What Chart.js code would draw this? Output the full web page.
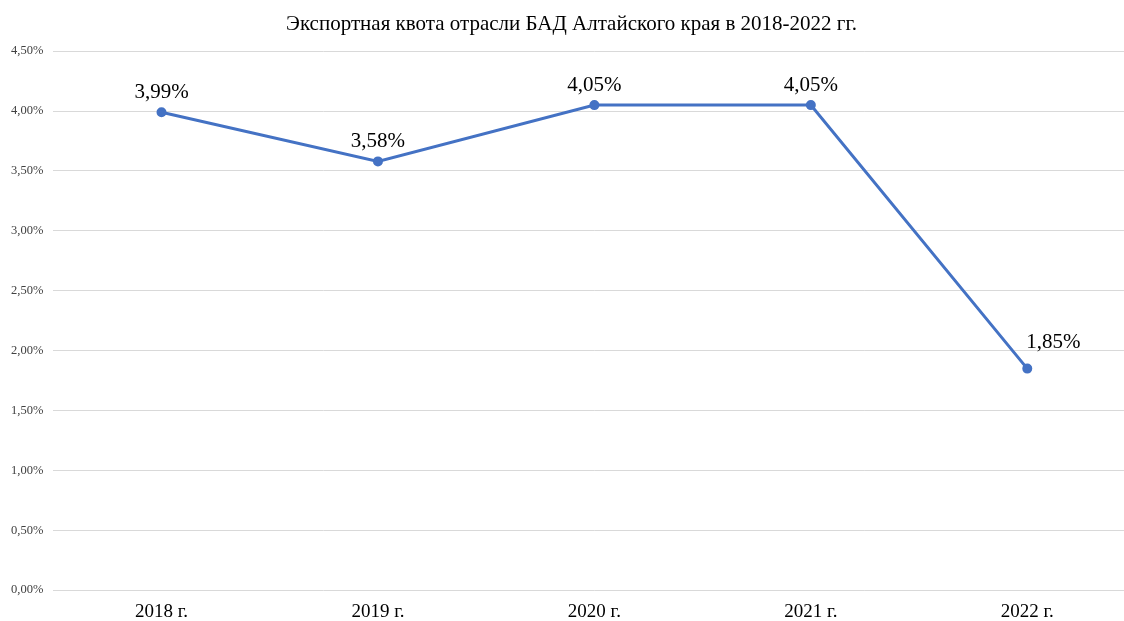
<!DOCTYPE html>
<html>
<head>
<meta charset="utf-8">
<script src="https://cdn.jsdelivr.net/npm/chart.js@4"></script>
<style>
  html, body { margin: 0; padding: 0; background: #fff; overflow: hidden; }
  #wrap { width: 1142px; height: 633px; }
</style>
</head>
<body>
<div id="wrap"><canvas id="exportChart"></canvas></div>
<script>
const years = ["2018 г.", "2019 г.", "2020 г.", "2021 г.", "2022 г."];
const exportQuota = [3.99, 3.58, 4.05, 4.05, 1.85];
const quotaLabels = ["3,99%", "3,58%", "4,05%", "4,05%", "1,85%"];

const fmtPct = (v) => v.toFixed(2).replace(".", ",") + "%";

// simple value labels above each point
const pointLabels = {
  id: "pointLabels",
  afterDatasetsDraw(chart) {
    const ctx = chart.ctx;
    const meta = chart.getDatasetMeta(0);
    ctx.save();
    ctx.font = "21px 'Liberation Serif', serif";
    ctx.fillStyle = "#000";
    ctx.textAlign = "center";
    ctx.textBaseline = "middle";
    meta.data.forEach((pt, i) => {
      let dx = 0;
      let dy = -20;
      if (i === meta.data.length - 1) {
        dx = 26;
        dy = -26;
      }
      ctx.fillText(quotaLabels[i], pt.x + dx, pt.y + dy);
    });
    ctx.restore();
  },
};

const ctx = document.getElementById("exportChart").getContext("2d");
new Chart(ctx, {
  type: "line",
  data: {
    labels: years,
    datasets: [
      {
        label: "Экспортная квота",
        data: exportQuota,
        borderColor: "#4472C4",
        backgroundColor: "#4472C4",
        borderWidth: 3,
        pointRadius: 3.5,
        pointHoverRadius: 3.5,
        tension: 0,
      },
    ],
  },
  options: {
    responsive: true,
    maintainAspectRatio: false,
    animation: false,
    layout: { padding: { left: 1, right: 0, top: 0, bottom: 0 } },
    plugins: {
      legend: { display: false },
      tooltip: { enabled: false },
      title: {
        display: true,
        text: "Экспортная квота отрасли БАД Алтайского края в 2018-2022 гг.",
        color: "#000",
        font: { family: "'Liberation Serif', serif", size: 21, weight: "normal" },
        padding: { top: 12, bottom: 14 },
      },
    },
    scales: {
      x: {
        offset: true,
        grid: { display: false, drawTicks: false },
        border: { display: false },
        ticks: {
          color: "#000",
          padding: 10,
          font: { family: "'Liberation Serif', serif", size: 19 },
        },
      },
      y: {
        min: 0,
        max: 4.5,
        grid: { color: "#d9d9d9", lineWidth: 1, drawTicks: false },
        border: { display: false },
        ticks: {
          stepSize: 0.5,
          color: "#404040",
          padding: 10,
          font: { family: "'Liberation Serif', serif", size: 12.5 },
          callback: (v) => fmtPct(v),
        },
      },
    },
  },
  plugins: [pointLabels],
});
</script>
</body>
</html>
